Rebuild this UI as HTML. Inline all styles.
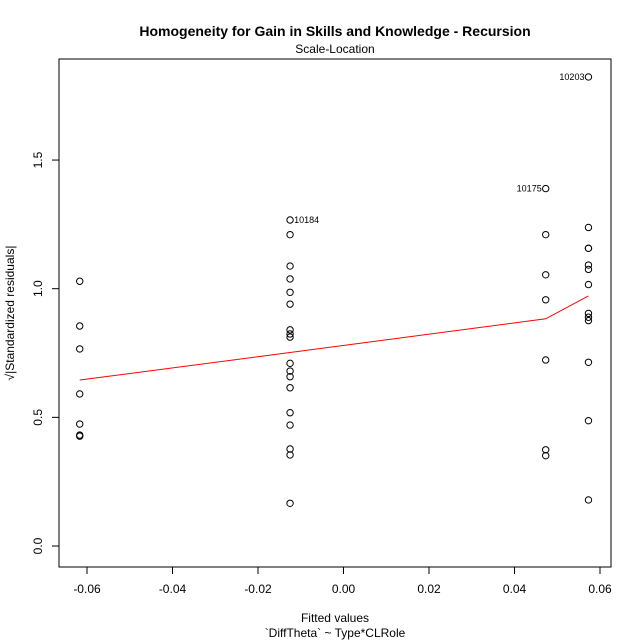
<!DOCTYPE html>
<html><head><meta charset="utf-8"><style>body{margin:0;background:#fff}svg{display:block;font-family:"Liberation Sans",Arial,sans-serif}</style></head>
<body>
<svg id="c" width="640" height="640"></svg>
<script>
const fittedGroups=[-0.0617,-0.0125,0.0473,0.0573];
const groupValues=[
[1.029,0.855,0.766,0.591,0.474,0.431,0.427],
[1.267,1.210,1.088,1.038,0.986,0.940,0.840,0.824,0.812,0.710,0.680,0.658,0.615,0.518,0.470,0.377,0.354,0.166],
[1.389,1.210,1.054,0.957,0.723,0.374,0.351],
[1.823,1.238,1.157,1.157,1.092,1.075,1.016,0.904,0.889,0.876,0.714,0.487,0.179]];
const labeled=[{g:1,v:1.267,t:"10184",side:"r"},{g:2,v:1.389,t:"10175",side:"l"},{g:3,v:1.823,t:"10203",side:"l"}];
const smoothX=[-0.0617,-0.0125,0.0473,0.0573];
const smoothY=[0.645,0.752,0.883,0.972];
const xTicks=[-0.06,-0.04,-0.02,0.00,0.02,0.04,0.06];
const xTickLabels=["-0.06","-0.04","-0.02","0.00","0.02","0.04","0.06"];
const yTicks=[0,0.5,1.0,1.5];
const yTickLabels=["0.0","0.5","1.0","1.5"];
const X=v=>343.5+v*4275, Y=v=>546-v*257.3;
const s=document.getElementById('c'),NS="http://www.w3.org/2000/svg";
function mk(t,a,txt){const e=document.createElementNS(NS,t);for(const k in a)e.setAttribute(k,a[k]);if(txt!=null)e.textContent=txt;s.appendChild(e);return e;}
let e;
e=mk('rect',{x:59,y:59,width:552,height:508,fill:'none',stroke:'#000'});


e=mk('text',{x:335,y:36,'text-anchor':'middle','font-size':14,'font-weight':'bold'},'Homogeneity for Gain in Skills and Knowledge - Recursion');


e=mk('text',{x:335,y:53,'text-anchor':'middle','font-size':12},'Scale-Location');


e=mk('text',{x:335,y:622,'text-anchor':'middle','font-size':12},'Fitted values');


e=mk('text',{x:335,y:637,'text-anchor':'middle','font-size':12},'`DiffTheta` ~ Type*CLRole');


e=mk('text',{x:14,y:313,'text-anchor':'middle','font-size':12,transform:'rotate(-90 14 313)'},'√|Standardized residuals|');


xTicks.forEach((t,i)=>{const x=X(t);
e=mk('line',{x1:x,x2:x,y1:567,y2:574,stroke:'#000'});


e=mk('text',{x:x,y:593,'text-anchor':'middle','font-size':12},xTickLabels[i]);

});
yTicks.forEach((t,i)=>{const y=Y(t);
e=mk('line',{x1:52,x2:59,y1:y,y2:y,stroke:'#000'});


e=mk('text',{x:42,y:y,'text-anchor':'middle','font-size':12,transform:`rotate(-90 42 ${y})`},yTickLabels[i]);

});
fittedGroups.forEach((f,g)=>groupValues[g].forEach(v=>{
e=mk('circle',{cx:X(f),cy:Y(v),r:3.2,fill:'none',stroke:'#000','stroke-width':1});

}));
labeled.forEach(l=>{const x=X(fittedGroups[l.g]),y=Y(l.v);
e=mk('text',{x:l.side==='r'?x+4:x-4,y:y+3,'text-anchor':l.side==='r'?'start':'end','font-size':9},l.t);

});
e=mk('polyline',{points:smoothX.map((x,i)=>X(x)+','+Y(smoothY[i])).join(' '),fill:'none',stroke:'#ff0000','stroke-width':1});


</script>
</body></html>
